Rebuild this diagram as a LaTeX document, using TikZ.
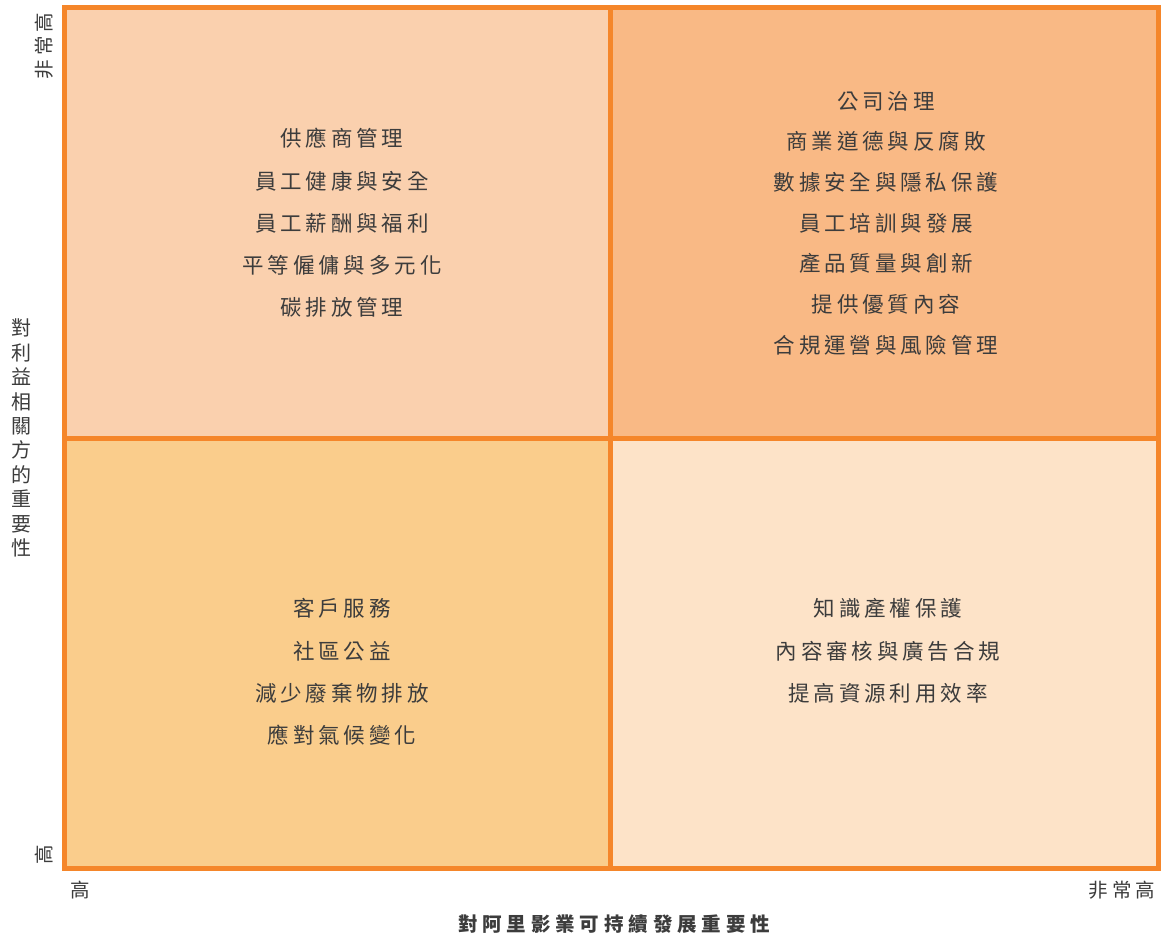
\documentclass[tikz,border=0pt]{standalone}
\usepackage{fontspec}
\newfontfamily\cjk[LetterSpace=18]{Noto Sans CJK TC}
\newfontfamily\cjkt[LetterSpace=20]{Noto Sans CJK TC}
\newfontfamily\cjkx[LetterSpace=25]{Noto Sans CJK TC}
\definecolor{frame}{HTML}{F5862A}
\definecolor{qtl}{HTML}{FAD0AE}
\definecolor{qtr}{HTML}{F9B985}
\definecolor{qbl}{HTML}{FACD8C}
\definecolor{qbr}{HTML}{FDE3C8}
\definecolor{txt}{HTML}{3C3C3C}
\tikzset{
  items/.style={align=center, text=txt, font=\cjk\fontsize{21.5}{42.3}\selectfont, inner sep=0pt},
  itemstight/.style={items, font=\cjk\fontsize{21.5}{40.7}\selectfont},
  tick/.style={text=txt, font=\cjkt\fontsize{19.5}{24}\selectfont, inner sep=0pt},
  title/.style={text=txt, inner sep=0pt, align=center},
}
\begin{document}
\begin{tikzpicture}[x=1pt,y=-1pt]
\useasboundingbox[fill=white] (0,0) rectangle (1161,936);
% cells
\fill[qtl] (64,8) rectangle (610,438);
\fill[qtr] (610,8) rectangle (1158,438);
\fill[qbl] (64,438) rectangle (610,868);
\fill[qbr] (610,438) rectangle (1158,868);
% frame
\draw[frame, line width=5pt] (64,8) rectangle (1158,868);
\draw[frame, line width=5pt] (610,8) -- (610,868);
\draw[frame, line width=5pt] (64,438) -- (1158,438);
% quadrant texts
\node[items] (tl) at (342,223) {供應商管理\\員工健康與安全\\員工薪酬與福利\\平等僱傭與多元化\\碳排放管理};
\node[itemstight] (tr) at (886,223) {公司治理\\商業道德與反腐敗\\數據安全與隱私保護\\員工培訓與發展\\產品質量與創新\\提供優質內容\\合規運營與風險管理};
\node[items] (bl) at (342,672) {客戶服務\\社區公益\\減少廢棄物排放\\應對氣候變化};
\node[items] (br) at (888,651) {知識產權保護\\內容審核與廣告合規\\提高資源利用效率};
% tick labels
\node[tick, rotate=90] (yhi) at (44,46) {非常高};
\node[tick, rotate=90] (ylo) at (44,855) {高};
\node[tick] (xlo) at (80,890) {高};
\node[tick] (xhi) at (1122,890) {非常高};
% axis titles
\node[title, font=\cjkt\fontsize{20}{24.4}\selectfont] (ytitle) at (21,438) {對\\利\\益\\相\\關\\方\\的\\重\\要\\性};
\node[title, font=\cjkx\bfseries\fontsize{19.5}{24.4}\selectfont] (xtitle) at (614,924) {對阿里影業可持續發展重要性};
\end{tikzpicture}
\end{document}
